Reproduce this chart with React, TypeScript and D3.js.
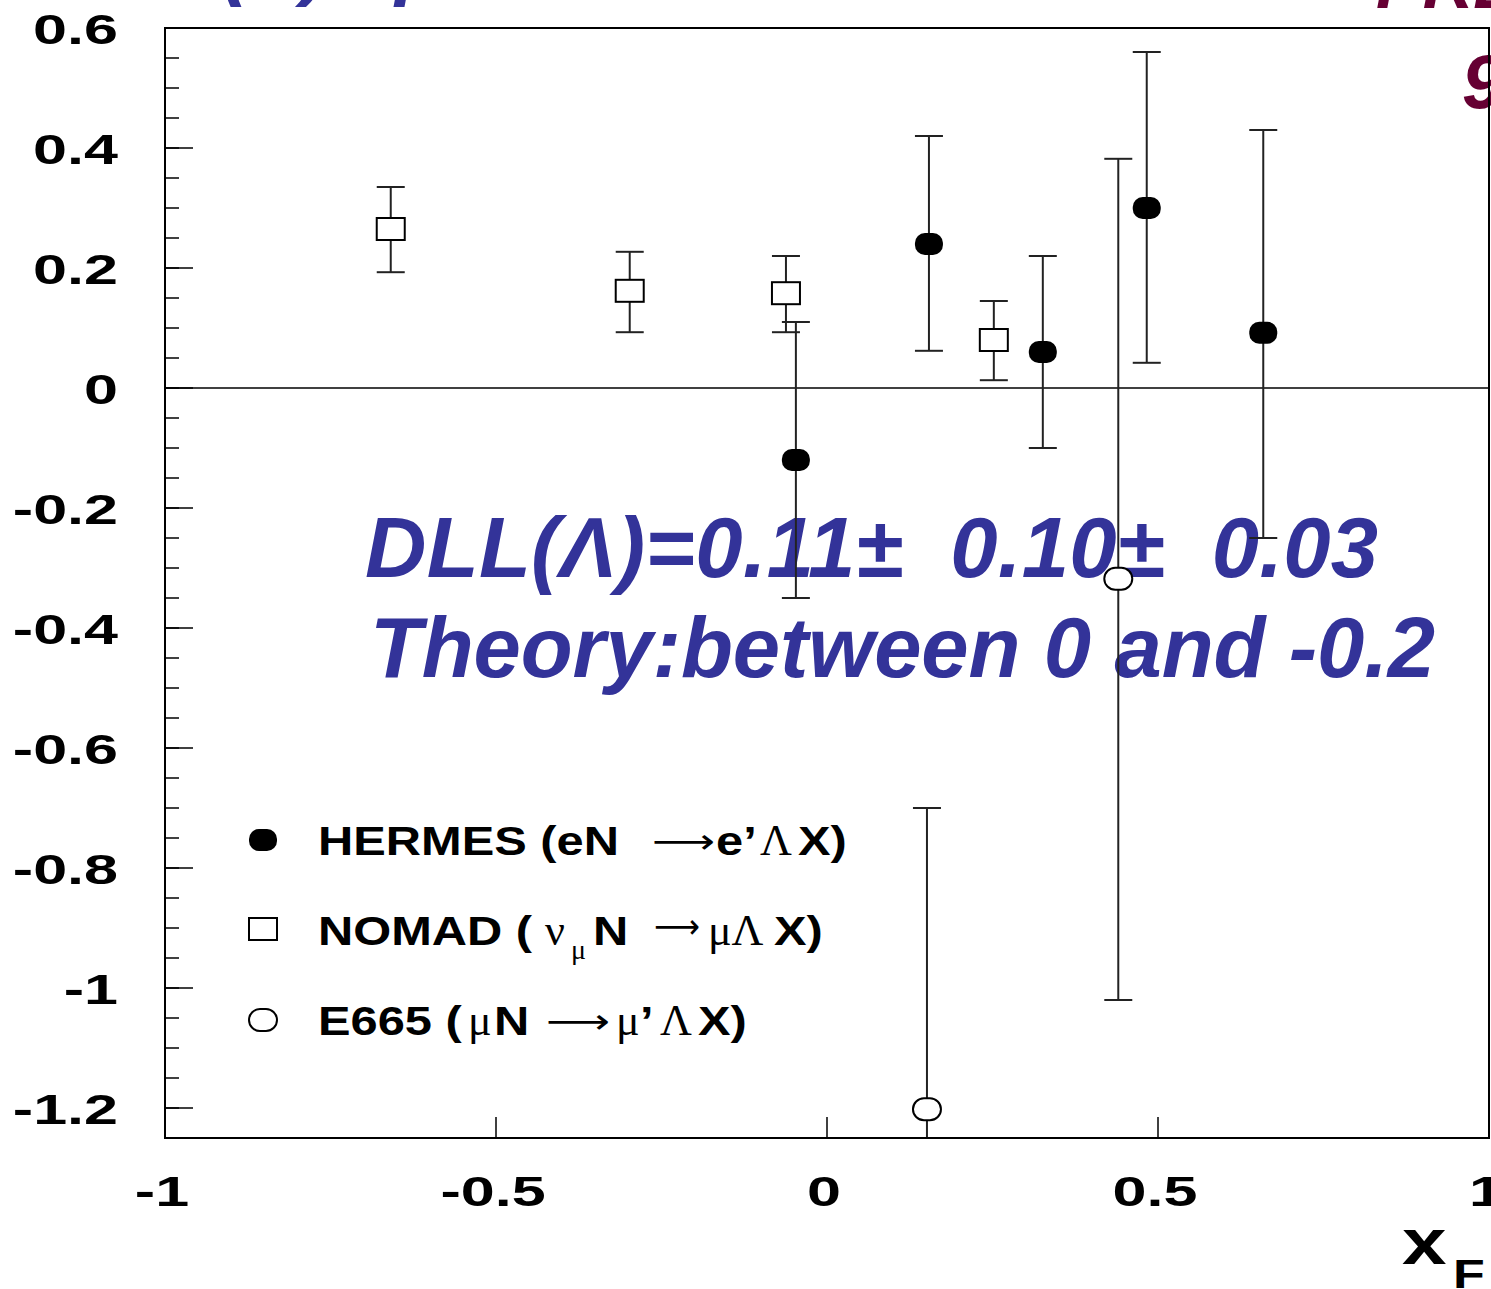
import React from "react";
import * as d3 from "d3";

const W = 1491;
const H = 1289;

// HERMES (filled)
const hermesX = [-0.047, 0.154, 0.326, 0.483, 0.659];
const hermesY = [-0.12, 0.24, 0.06, 0.30, 0.092];
const hermesHi = [0.11, 0.42, 0.22, 0.56, 0.43];
const hermesLo = [-0.35, 0.062, -0.10, 0.042, -0.25];

// NOMAD (open squares)
const nomadX = [-0.659, -0.298, -0.062, 0.252];
const nomadY = [0.265, 0.162, 0.158, 0.08];
const nomadHi = [0.335, 0.227, 0.22, 0.145];
const nomadLo = [0.193, 0.093, 0.093, 0.013];

// E665 (open circles)
const e665X = [0.151, 0.44];
const e665Y = [-1.202, -0.318];
const e665Hi = [-0.70, 0.382];
const e665Lo = [-1.6, -1.02];

const yMajorTicks = [0.6, 0.4, 0.2, 0, -0.2, -0.4, -0.6, -0.8, -1, -1.2];
const yTickLabels = ["0.6", "0.4", "0.2", "0", "-0.2", "-0.4", "-0.6", "-0.8", "-1", "-1.2"];
const xMajorTicks = [-1, -0.5, 0, 0.5, 1];
const xTickLabels = ["-1", "-0.5", "0", "0.5", "1"];

const SANS = "'Liberation Sans', Arial, Helvetica, sans-serif";
const SERIF = "'Liberation Serif', 'Times New Roman', serif";
const BLUE = "#333399";
const MAROON = "#660033";

export default function App() {
  const x = d3.scaleLinear().domain([-1, 1]).range([165, 1489]);
  const y = d3.scaleLinear().domain([0.6, -1.25]).range([28, 1138]);
  const [x0, x1] = x.range();
  const [y0, y1] = y.range();

  const minor = d3.range(-1.25, 0.6001, 0.05).map((v) => Math.round(v * 100) / 100);

  const errBar = (cx: number, hi: number, lo: number, key: string) => {
    const px = x(cx);
    return (
      <g key={key} stroke="#222" strokeWidth={2}>
        <line x1={px} x2={px} y1={y(hi)} y2={y(lo)} />
        <line x1={px - 14} x2={px + 14} y1={y(hi)} y2={y(hi)} />
        <line x1={px - 14} x2={px + 14} y1={y(lo)} y2={y(lo)} />
      </g>
    );
  };

  const bold = (px: number, py: number, txt: string, size = 40, sx = 1.22) => (
    <text
      transform={`translate(${px},${py}) scale(${sx},1)`}
      fontFamily={SANS}
      fontWeight="bold"
      fontSize={size}
      fill="#000"
    >
      {txt}
    </text>
  );
  const serif = (px: number, py: number, txt: string, size = 44, sx = 1.0) => (
    <text
      transform={`translate(${px},${py}) scale(${sx},1)`}
      fontFamily={SERIF}
      fontSize={size}
      fill="#000"
    >
      {txt}
    </text>
  );
  const arrow = (px: number, py: number, len: number) => (
    <text
      x={px}
      y={py}
      fontFamily="'DejaVu Sans', sans-serif"
      fontSize={34}
      textLength={len}
      lengthAdjust="spacingAndGlyphs"
      fill="#000"
    >
      ⟶
    </text>
  );

  return (
    <svg
      width={W}
      height={H}
      style={{ position: "absolute", left: 0, top: 0, background: "#fff" }}
    >
      <defs>
        <clipPath id="plotclip">
          <rect x={x0} y={y0} width={x1 - x0} height={y1 - y0} />
        </clipPath>
      </defs>
      <rect width={W} height={H} fill="#fff" />

      {/* partially visible title texts at top */}
      <text
        x={222}
        y={-10}
        fontFamily={SANS}
        fontWeight="bold"
        fontStyle="italic"
        fontSize={80}
        fill={BLUE}
      >
        (Λ) spin transfer
      </text>
      <text
        x={1376}
        y={8}
        fontFamily={SANS}
        fontWeight="bold"
        fontStyle="italic"
        fontSize={70}
        fill={MAROON}
      >
        PRELIMINARY
      </text>
      <text
        x={1462}
        y={108}
        fontFamily={SANS}
        fontWeight="bold"
        fontStyle="italic"
        fontSize={76}
        fill={MAROON}
      >
        9
      </text>

      {/* annotation */}
      <text
        x={365}
        y={577}
        fontFamily={SANS}
        fontWeight="bold"
        fontStyle="italic"
        fontSize={85}
        fill={BLUE}
        textLength={1013}
        lengthAdjust="spacing"
        style={{ whiteSpace: "pre" }}
      >
        {"DLL(Λ)=0.11±  0.10±  0.03"}
      </text>
      <text
        x={370}
        y={677}
        fontFamily={SANS}
        fontWeight="bold"
        fontStyle="italic"
        fontSize={85}
        fill={BLUE}
        textLength={1065}
        lengthAdjust="spacing"
      >
        Theory:between 0 and -0.2
      </text>

      {/* zero line */}
      <line x1={x0} x2={x1} y1={y(0)} y2={y(0)} stroke="#000" strokeWidth={1.5} />

      {/* y ticks */}
      {minor.map((v, i) => (
        <line key={"m" + i} x1={x0} x2={x0 + 14} y1={y(v)} y2={y(v)} stroke="#000" strokeWidth={1.5} />
      ))}
      {yMajorTicks.map((v, i) => (
        <line key={"M" + i} x1={x0} x2={x0 + 28} y1={y(v)} y2={y(v)} stroke="#000" strokeWidth={1.5} />
      ))}
      {yMajorTicks.map((v, i) => (
        <text
          key={"yl" + i}
          transform={`translate(118,${y(v) + 16}) scale(1.42,1)`}
          textAnchor="end"
          fontFamily={SANS}
          fontWeight="bold"
          fontSize={43}
          fill="#000"
        >
          {yTickLabels[i]}
        </text>
      ))}

      {/* x ticks */}
      {xMajorTicks.map((v, i) => (
        <line key={"xt" + i} x1={x(v)} x2={x(v)} y1={y1} y2={y1 - 21} stroke="#000" strokeWidth={1.5} />
      ))}
      {xMajorTicks.map((v, i) => (
        <text
          key={"xl" + i}
          transform={`translate(${x(v) - 3},${1206}) scale(1.42,1)`}
          textAnchor="middle"
          fontFamily={SANS}
          fontWeight="bold"
          fontSize={43}
          fill="#000"
        >
          {xTickLabels[i]}
        </text>
      ))}

      {/* axis title */}
      <text
        transform="translate(1402,1264) scale(1.25,1)"
        fontFamily={SANS}
        fontWeight="bold"
        fontSize={64}
        fill="#000"
      >
        x
      </text>
      <text
        transform="translate(1453,1288) scale(1.3,1)"
        fontFamily={SANS}
        fontWeight="bold"
        fontSize={40}
        fill="#000"
      >
        F
      </text>

      {/* data */}
      <g clipPath="url(#plotclip)">
        {nomadX.map((v, i) => errBar(v, nomadHi[i], nomadLo[i], "ne" + i))}
        {hermesX.map((v, i) => errBar(v, hermesHi[i], hermesLo[i], "he" + i))}
        {e665X.map((v, i) => errBar(v, e665Hi[i], e665Lo[i], "ee" + i))}
        {nomadX.map((v, i) => (
          <rect
            key={"nm" + i}
            x={x(v) - 14}
            y={y(nomadY[i]) - 11}
            width={28}
            height={22}
            fill="#fff"
            stroke="#000"
            strokeWidth={2}
          />
        ))}
        {hermesX.map((v, i) => (
          <rect
            key={"hm" + i}
            x={x(v) - 14}
            y={y(hermesY[i]) - 11}
            width={28}
            height={22}
            rx={10}
            ry={10}
            fill="#000"
          />
        ))}
        {e665X.map((v, i) => (
          <rect
            key={"em" + i}
            x={x(v) - 14}
            y={y(e665Y[i]) - 11}
            width={28}
            height={22}
            rx={11}
            ry={11}
            fill="#fff"
            stroke="#000"
            strokeWidth={2}
          />
        ))}
      </g>

      {/* frame */}
      <rect x={x0} y={y0} width={x1 - x0} height={y1 - y0} fill="none" stroke="#000" strokeWidth={2} />

      {/* legend */}
      <rect x={249} y={829} width={28} height={22} rx={10} ry={10} fill="#000" />
      {bold(318, 855, "HERMES (eN")}
      {arrow(652, 853, 63)}
      {bold(716, 855, "e’")}
      {serif(760, 855, "Λ")}
      {bold(798, 855, "X)")}

      <rect x={249} y={918} width={28} height={22} fill="#fff" stroke="#000" strokeWidth={2} />
      {bold(318, 945, "NOMAD (")}
      {serif(545, 945, "ν")}
      {serif(571, 959, "μ", 28)}
      {bold(593, 945, "N")}
      {arrow(654, 938, 46)}
      {serif(708, 945, "μΛ")}
      {bold(774, 945, "X)")}

      <rect x={249} y={1009} width={28} height={22} rx={11} ry={11} fill="#fff" stroke="#000" strokeWidth={2} />
      {bold(318, 1035, "E665 (")}
      {serif(468, 1035, "μ")}
      {bold(494, 1035, "N")}
      {arrow(546, 1033, 64)}
      {serif(616, 1035, "μ")}
      {bold(640, 1035, "’")}
      {serif(660, 1035, "Λ")}
      {bold(698, 1035, "X)")}
    </svg>
  );
}
